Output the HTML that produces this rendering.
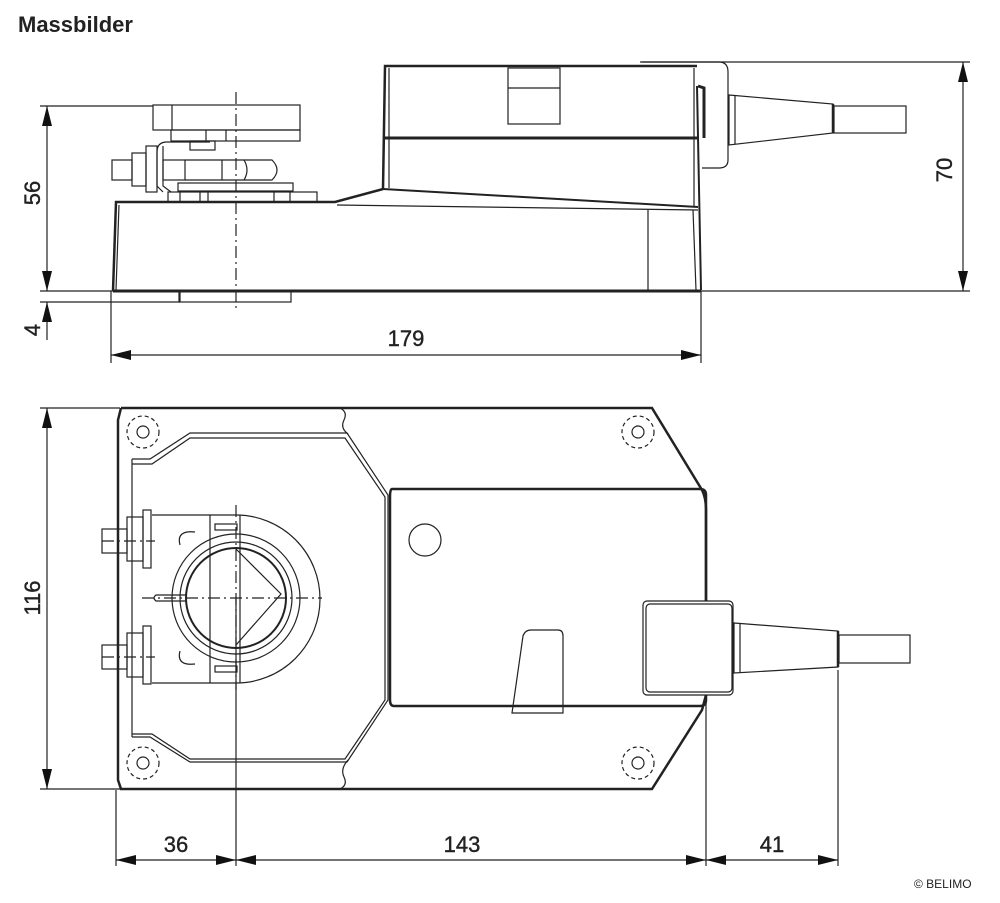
<!DOCTYPE html>
<html><head><meta charset="utf-8"><style>
html,body{margin:0;padding:0;background:#fff;}
svg{display:block;}
text{font-family:"Liberation Sans",Arial,sans-serif;fill:#222;stroke:#222;stroke-width:0.4;}
</style></head><body>
<svg width="1000" height="903" viewBox="0 0 1000 903" xmlns="http://www.w3.org/2000/svg">
<defs>
<marker id="a" viewBox="0 0 20 10" refX="20" refY="5" markerWidth="20" markerHeight="10" markerUnits="userSpaceOnUse" orient="auto-start-reverse"><path d="M0,0 L20,5 L0,10 z" fill="#111"/></marker>
</defs>
<text x="18" y="32" font-size="22" font-weight="bold" style="stroke:none">Massbilder</text>
<text x="914" y="888" font-size="12" style="stroke:none">© BELIMO</text>

<g fill="none" stroke="#222" stroke-width="1.2">
<!-- ===== TOP (side) VIEW ===== -->
<line x1="40" y1="106" x2="153" y2="106"/>
<line x1="40" y1="291" x2="113" y2="291"/>
<line x1="40" y1="302" x2="180" y2="302"/>
<line x1="640" y1="62" x2="970" y2="62"/>
<line x1="700" y1="291" x2="970" y2="291"/>
<line x1="111" y1="291" x2="111" y2="363"/>
<line x1="701" y1="291" x2="701" y2="363"/>
<line x1="47" y1="106" x2="47" y2="291" marker-start="url(#a)" marker-end="url(#a)"/>
<line x1="47" y1="340" x2="47" y2="302" marker-end="url(#a)"/>
<line x1="111" y1="355" x2="701" y2="355" marker-start="url(#a)" marker-end="url(#a)"/>
<line x1="963" y1="62" x2="963" y2="291" marker-start="url(#a)" marker-end="url(#a)"/>
<path d="M113,291 L116,202 L335,202 L383,189" stroke-width="2.5"/>
<line x1="113" y1="291" x2="701" y2="291" stroke-width="3"/>
<path d="M119,205 L116,290"/>
<path d="M337,205 L698,210"/>
<path d="M383,189 L698,207" stroke-width="2"/>
<path d="M697,86 L701,290" stroke-width="2"/>
<line x1="648" y1="210" x2="648" y2="290"/>
<line x1="693" y1="210" x2="696" y2="290"/>
<path d="M383,189 L385,66 L697,66" stroke-width="2.5"/>
<line x1="385" y1="138" x2="697" y2="138" stroke-width="3"/>
<line x1="389" y1="68" x2="389" y2="188"/>
<line x1="694" y1="68" x2="694" y2="206"/>
<path d="M698,86 L704,88 L704,138" stroke-width="3"/>
<rect x="508" y="68" width="52" height="56"/>
<line x1="508" y1="88" x2="560" y2="88"/>
<path d="M642,62 L719,62 Q728,62 728,72 L728,160 Q728,168 719,168 L702,168"/>
<path d="M729,95 L833,104 L833,133 L729,145 z"/>
<line x1="735" y1="96" x2="735" y2="144"/>
<line x1="833" y1="104" x2="833" y2="133" stroke-width="2.5"/>
<rect x="834" y="106" width="72" height="27"/>
<rect x="153" y="105" width="147" height="25"/>
<line x1="172" y1="105" x2="172" y2="130"/>
<rect x="171" y="130" width="129" height="11"/>
<line x1="206" y1="130" x2="206" y2="141"/><line x1="226" y1="130" x2="226" y2="141"/>
<rect x="190" y="141" width="25" height="9"/>
<path d="M163,192 L157,186 L157,152 Q157,142 167,142 L210,142"/>
<path d="M171,192 L163,186 L163,146"/>
<rect x="146" y="146" width="11" height="46"/>
<rect x="132" y="153" width="14" height="33"/>
<rect x="112" y="160" width="20" height="20"/>
<rect x="163" y="160" width="22" height="20"/>
<path d="M185,160 L244,160 Q250,170 244,180 L185,180"/>
<path d="M244,160 L272,160 Q282,170 272,180 L244,180"/>
<line x1="222" y1="160" x2="222" y2="180"/>
<rect x="178" y="183" width="115" height="8"/>
<rect x="168" y="192" width="149" height="10"/>
<line x1="180" y1="192" x2="180" y2="202"/><line x1="200" y1="192" x2="200" y2="202"/><line x1="208" y1="192" x2="208" y2="202"/>
<line x1="274" y1="192" x2="274" y2="202"/><line x1="290" y1="192" x2="290" y2="202"/>
<rect x="180" y="291" width="111" height="11"/>
<line x1="179" y1="291" x2="179" y2="302"/>
<line x1="236" y1="92" x2="236" y2="310" stroke-dasharray="12,4,2,4"/>

<!-- ===== BOTTOM (plan) VIEW ===== -->
<line x1="40" y1="408" x2="120" y2="408"/>
<line x1="40" y1="789" x2="120" y2="789"/>
<line x1="47" y1="408" x2="47" y2="789" marker-start="url(#a)" marker-end="url(#a)"/>
<line x1="116" y1="790" x2="116" y2="866"/>
<line x1="236" y1="598" x2="236" y2="866"/>
<line x1="706" y1="695" x2="706" y2="866"/>
<line x1="838" y1="670" x2="838" y2="866"/>
<line x1="116" y1="860" x2="236" y2="860" marker-start="url(#a)" marker-end="url(#a)"/>
<line x1="236" y1="860" x2="706" y2="860" marker-start="url(#a)" marker-end="url(#a)"/>
<line x1="706" y1="860" x2="838" y2="860" marker-start="url(#a)" marker-end="url(#a)"/>
<path d="M121,408 L652,408 L702,490 Q706,498 706,510 L706,605 M706,695 L702,710 L652,789 L121,789 L118,780 L118,420 L121,408" stroke-width="2.5"/>
<path d="M340,408 Q348,412 344,420 Q340,428 348,434"/>
<path d="M340,789 Q348,785 344,777 Q340,769 348,760"/>
<path d="M132,459 L150,459 L190,433 L347,433 L388,495 L388,700 L347,762 L190,762 L150,737 L132,737"/>
<path d="M132,464 L152,464 L190,438 L345,438 L385,497 L385,700 L345,759 L190,759 L152,734 L132,734"/>
<line x1="132" y1="459" x2="132" y2="737"/>
<path d="M392,489 L700,489 Q706,489 706,495 L706,700 Q706,706 700,706 L394,706 Q390,706 390,700 L390,497 Q390,489 392,489 Z" stroke-width="2.5"/>
<circle cx="425" cy="540" r="16"/>
<path d="M512,713 L523,636 Q525,630 531,630 L558,630 Q563,630 563,636 L563,713 Z"/>
<rect x="643" y="601" width="90" height="94" rx="4" fill="#fff"/>
<rect x="646" y="604" width="86" height="88" rx="4"/>
<path d="M734,623 L838,631 L838,667 L734,673 z"/>
<line x1="740" y1="624" x2="740" y2="672"/>
<line x1="838" y1="631" x2="838" y2="667" stroke-width="2.5"/>
<rect x="839" y="635" width="71" height="28"/>
<g stroke-dasharray="4,3"><circle cx="143" cy="432" r="16"/><circle cx="143" cy="763" r="16"/><circle cx="638" cy="432" r="16"/><circle cx="638" cy="763" r="16"/></g>
<circle cx="143" cy="432" r="6"/><circle cx="143" cy="763" r="6"/><circle cx="638" cy="432" r="6"/><circle cx="638" cy="763" r="6"/>
<path d="M152,515 L236,515 A84,84 0 0 1 236,683 L152,683"/>
<line x1="210" y1="515" x2="210" y2="683"/>
<line x1="240" y1="515" x2="240" y2="683"/>
<circle cx="236" cy="598" r="64"/>
<circle cx="236" cy="598" r="56"/>
<circle cx="236" cy="598" r="50" stroke-width="2"/>
<path d="M236,549 L281,594 L236,645"/>
<path d="M180,545 Q176,530 195,532"/><path d="M180,651 Q176,666 195,664"/>
<rect x="215" y="524" width="22" height="6"/><rect x="215" y="666" width="22" height="6"/>
<path d="M186,595 L156,595 Q152,598 156,601 L186,601"/>
<rect x="143" y="510" width="8" height="58"/><rect x="143" y="626" width="8" height="58"/>
<rect x="127" y="517" width="16" height="44"/><rect x="127" y="633" width="16" height="44"/>
<rect x="102" y="529" width="25" height="24"/><rect x="102" y="645" width="25" height="24"/>
<g stroke-dasharray="12,4,2,4">
<line x1="236" y1="505" x2="236" y2="690"/>
<line x1="142" y1="598" x2="322" y2="598"/>
<line x1="102" y1="541" x2="155" y2="541"/>
<line x1="102" y1="657" x2="155" y2="657"/>
</g>
</g>

<g font-size="22">
<text x="406" y="346" text-anchor="middle">179</text>
<text x="176" y="852" text-anchor="middle">36</text>
<text x="462" y="852" text-anchor="middle">143</text>
<text x="772" y="852" text-anchor="middle">41</text>
<text transform="translate(40,193) rotate(-90)" text-anchor="middle">56</text>
<text transform="translate(40,330) rotate(-90)" text-anchor="middle">4</text>
<text transform="translate(952,170) rotate(-90)" text-anchor="middle">70</text>
<text transform="translate(40,598) rotate(-90)" text-anchor="middle">116</text>
</g>
</svg>
</body></html>
